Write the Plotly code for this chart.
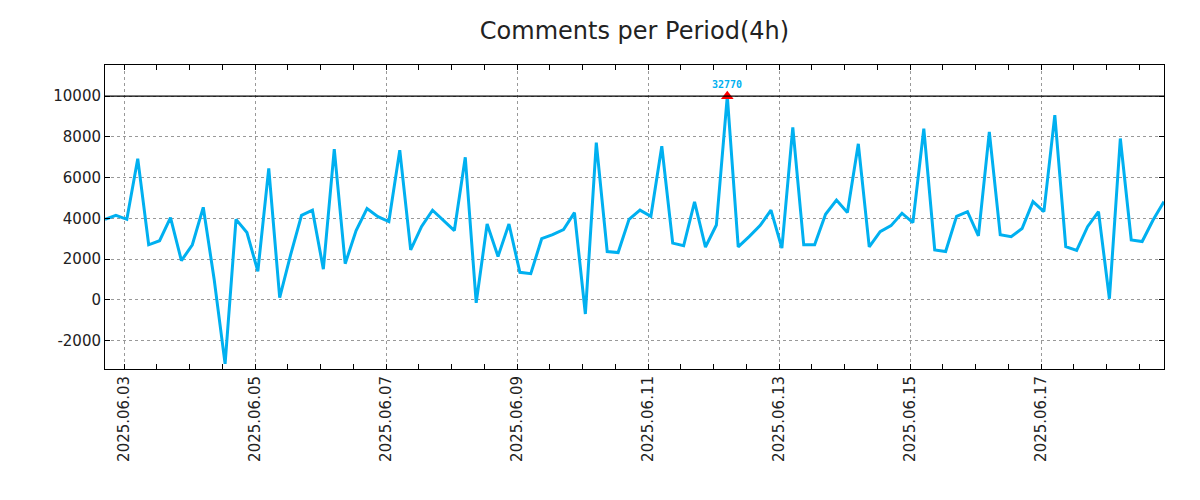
import pandas as pd
import plotly.graph_objects as go

# ---- data ----
start_time = "2025-06-02 17:00"
period = "4h"
comments = [
    3950, 4150, 3950, 6930, 2700, 2900, 4030, 1920, 2700, 4540,
    1000, -3150, 3950, 3300, 1400, 6450, 100, 2200, 4150, 4400,
    1500, 7400, 1770, 3400, 4480, 4080, 3840, 7350, 2450, 3600,
    4400, 3900, 3400, 7000, -150, 3720, 2130, 3720, 1350, 1280,
    3000, 3200, 3450, 4280, -700, 7720, 2370, 2320, 3950, 4400,
    4100, 7540, 2780, 2650, 4810, 2590, 3670, 32770, 2600, 3100,
    3640, 4400, 2540, 8470, 2700, 2700, 4200, 4900, 4290, 7660,
    2600, 3350, 3640, 4250, 3790, 8400, 2450, 2370, 4100, 4330,
    3140, 8250, 3190, 3100, 3500, 4820, 4330, 9070, 2610, 2420,
    3590, 4330, 50, 7920, 2940, 2860, 3920, 4820,
]
cap_value = 10000
y_ticks = [-2000, 0, 2000, 4000, 6000, 8000, 10000]
title_text = "Comments per Period(4h)"

times = pd.date_range(start=start_time, periods=len(comments), freq=period)
shown = [min(v, cap_value) for v in comments]
peak_idx = max(range(len(comments)), key=lambda i: comments[i])
peak_time = times[peak_idx]
peak_val = comments[peak_idx]

fig = go.Figure()
fig.add_trace(go.Scatter(
    x=times, y=shown, mode="lines",
    line=dict(color="#00b0f0", width=3),
    hoverinfo="x+y", showlegend=False,
))
fig.add_trace(go.Scatter(
    x=[peak_time], y=[min(peak_val, cap_value)], mode="markers",
    marker=dict(symbol="triangle-up", size=11, color="red"),
    showlegend=False,
))
fig.add_hline(y=cap_value, line=dict(color="black", width=1.3))
fig.add_annotation(
    x=peak_time, y=min(peak_val, cap_value), text=f"<b>{peak_val}</b>",
    showarrow=False, yshift=12,
    font=dict(family="DejaVu Sans Mono", size=10, color="#00b0f0"),
)

axis_common = dict(
    showline=True, linecolor="black", linewidth=1, mirror="ticks",
    ticks="inside", ticklen=5, tickcolor="black",
    showgrid=True, gridcolor="#999999", griddash="dot", gridwidth=1,
    zeroline=False,
    tickfont=dict(family="DejaVu Sans", size=15, color="#222"),
)

fig.update_xaxes(
    **axis_common,
    type="date",
    range=[times[0], times[-1]],
    tick0="2025-06-03", dtick=2 * 86400000,
    tickformat="%Y.%m.%d", tickangle=-90,
    minor=dict(dtick=12 * 3600000, ticks="inside", ticklen=5,
               tickcolor="black", showgrid=False),
)
fig.update_yaxes(
    **axis_common,
    range=[-3400, 11530],
    tickvals=y_ticks, ticktext=[str(v) for v in y_ticks],
)

fig.update_layout(
    width=1200, height=500,
    margin=dict(l=97, r=44, t=57, b=139),
    paper_bgcolor="white", plot_bgcolor="white",
    title=dict(text=title_text, x=0.5, xref="paper", y=0.954, yanchor="middle",
               font=dict(family="DejaVu Sans", size=24, color="#222")),
)

fig.write_html("out.html")
